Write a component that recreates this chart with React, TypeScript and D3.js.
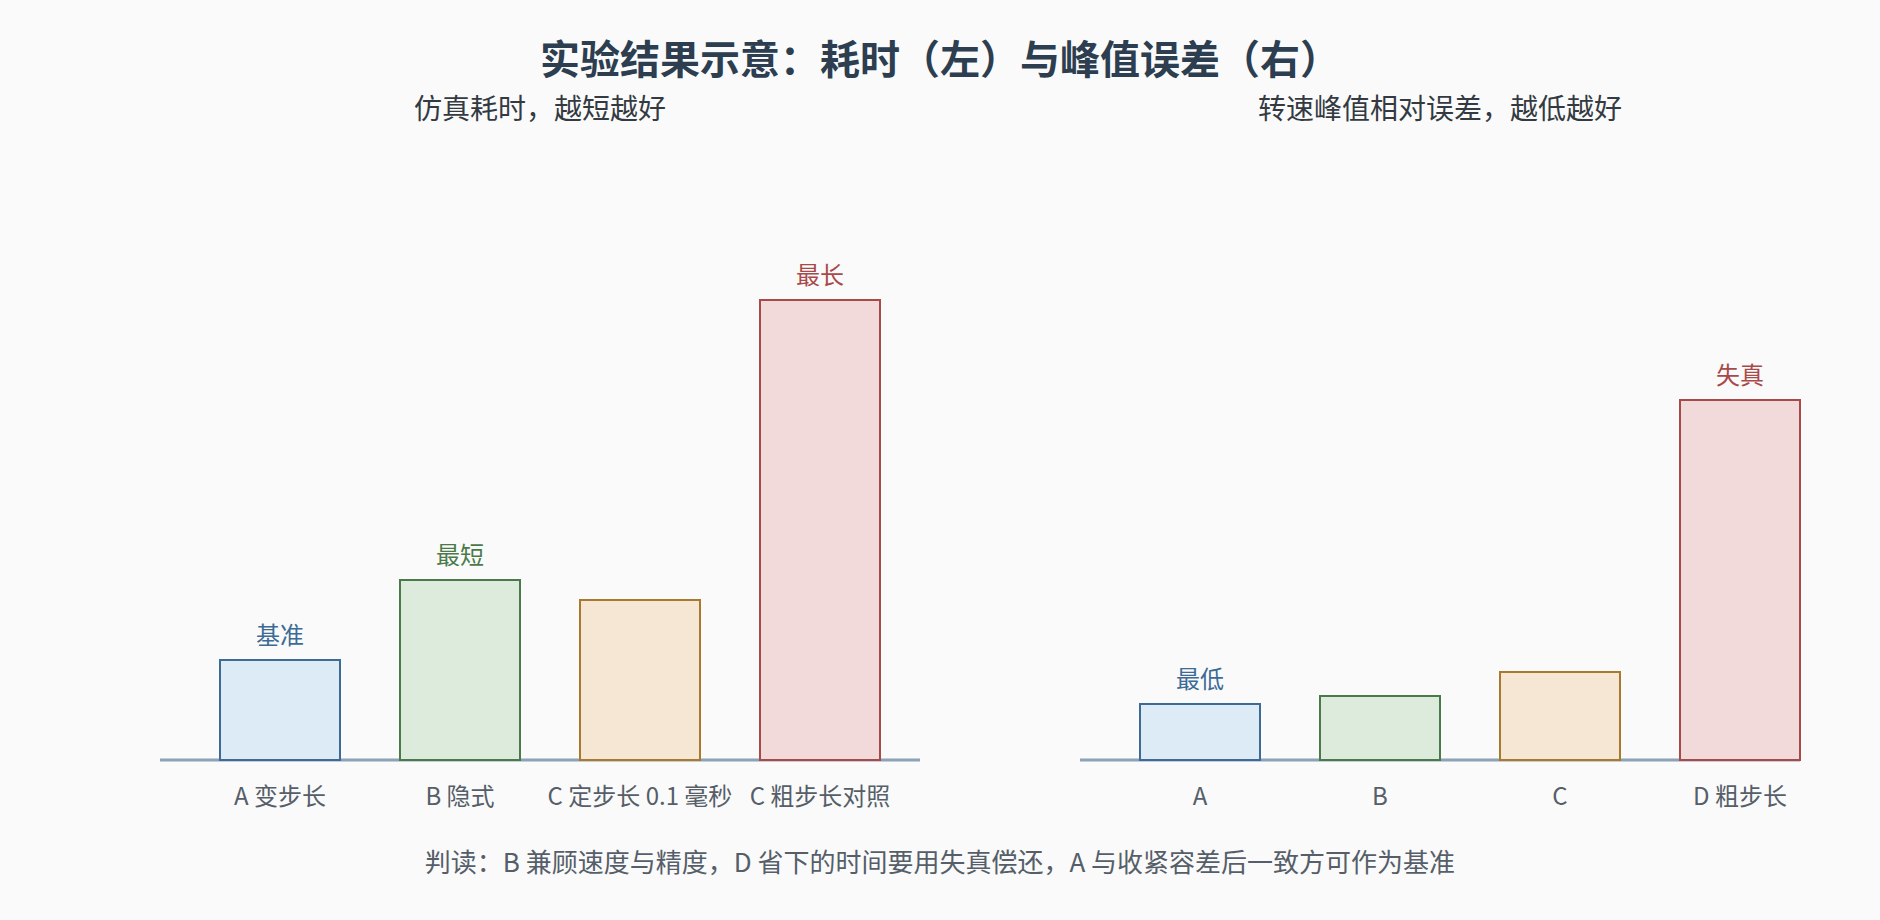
import React from "react";
import * as d3 from "d3";

const leftCategories = ["A 变步长", "B 隐式", "C 定步长 0.1 毫秒", "C 粗步长对照"];
const leftValues = [1.0, 1.8, 1.6, 4.6];
const leftNotes = ["基准", "最短", "", "最长"];

const rightCategories = ["A", "B", "C", "D 粗步长"];
const rightValues = [1.12, 1.28, 1.76, 7.2];
const rightNotes = ["最低", "", "", "失真"];

const fills = ["#dcebf5", "#dcebdc", "#f5e7d4", "#f2d9da"];
const strokes = ["#3d6b96", "#4a7a4a", "#a8792f", "#a84a4a"];

const titleText = "实验结果示意：耗时（左）与峰值误差（右）";
const leftSubtitle = "仿真耗时，越短越好";
const rightSubtitle = "转速峰值相对误差，越低越好";
const footerText = "判读：B 兼顾速度与精度，D 省下的时间要用失真偿还，A 与收紧容差后一致方可作为基准";

const W = 1880;
const H = 920;
const FONT = "'Noto Sans CJK SC', 'Noto Sans', sans-serif";

function Panel({ x0, axisEnd, categories, values, notes, yMax, yTop }: any) {
  const baseY = 760;
  const x = d3
    .scaleBand<string>()
    .domain(categories)
    .range([x0 + 30, x0 + 750])
    .paddingInner(1 / 3)
    .paddingOuter(1 / 6);
  const y = d3.scaleLinear().domain([0, yMax]).range([baseY, yTop]);
  return (
    <g>
      <line x1={x0} x2={axisEnd} y1={baseY} y2={baseY} stroke="#8ea2b7" strokeWidth={3} />
      {categories.map((c: string, i: number) => (
        <g key={c}>
          <rect
            x={x(c)}
            y={y(values[i])}
            width={x.bandwidth()}
            height={baseY - y(values[i])}
            fill={fills[i]}
            stroke={strokes[i]}
            strokeWidth={2}
          />
          {notes[i] ? (
            <text
              x={(x(c) as number) + x.bandwidth() / 2}
              y={y(values[i]) - 16}
              textAnchor="middle"
              fontSize={24}
              fill={strokes[i]}
              fontFamily={FONT}
            >
              {notes[i]}
            </text>
          ) : null}
          <text
            x={(x(c) as number) + x.bandwidth() / 2}
            y={805}
            textAnchor="middle"
            fontSize={24}
            fill="#555e69"
            fontFamily={FONT}
          >
            {c}
          </text>
        </g>
      ))}
    </g>
  );
}

export default function App() {
  return (
    <div style={{ position: "absolute", left: 0, top: 0 }}>
      <svg width={W} height={H} style={{ display: "block" }}>
        <rect x={0} y={0} width={W} height={H} fill="#fafafa" />
        <text
          x={940}
          y={74}
          textAnchor="middle"
          fontSize={40}
          fontWeight="bold"
          fill="#2c3e50"
          fontFamily={FONT}
        >
          {titleText}
        </text>
        <text x={540} y={119} textAnchor="middle" fontSize={28} fill="#333a42" fontFamily={FONT}>
          {leftSubtitle}
        </text>
        <text x={1440} y={119} textAnchor="middle" fontSize={28} fill="#333a42" fontFamily={FONT}>
          {rightSubtitle}
        </text>
        <Panel
          x0={160}
          axisEnd={920}
          categories={leftCategories}
          values={leftValues}
          notes={leftNotes}
          yMax={5}
          yTop={260}
        />
        <Panel
          x0={1080}
          axisEnd={1800}
          categories={rightCategories}
          values={rightValues}
          notes={rightNotes}
          yMax={8}
          yTop={360}
        />
        <text x={940} y={872} textAnchor="middle" fontSize={26} fill="#555e69" fontFamily={FONT}>
          {footerText}
        </text>
      </svg>
    </div>
  );
}
